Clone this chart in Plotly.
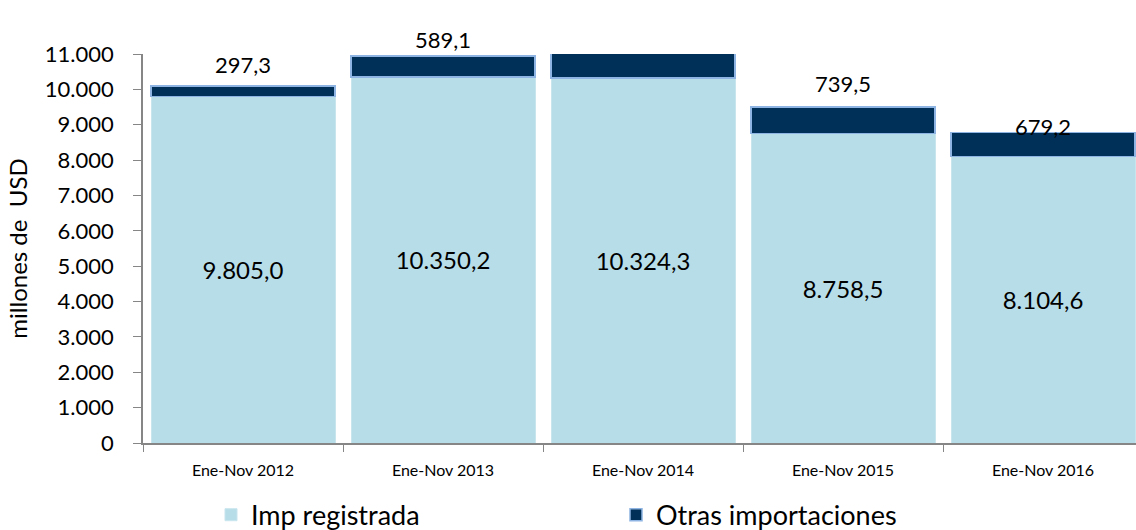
import plotly.graph_objects as go

categories = ["Ene-Nov 2012", "Ene-Nov 2013", "Ene-Nov 2014", "Ene-Nov 2015", "Ene-Nov 2016"]
imp_registrada = [9805.0, 10350.2, 10324.3, 8758.5, 8104.6]
otras_importaciones = [297.3, 589.1, 718.2, 739.5, 679.2]

# label offsets above each bar top (pixels, style only)
label_shift = [21, 17, 15, 24, 6]

FONT = "Lato"

def es_fmt(v):
    s = f"{v:,.1f}"
    return s.replace(",", "X").replace(".", ",").replace("X", ".")

fig = go.Figure()
fig.add_trace(go.Bar(
    x=categories, y=imp_registrada, name="Imp registrada",
    marker=dict(color="#B7DDE8", line=dict(color="#C8E5EE", width=1)),
    texttemplate="%{y:,.1f}", textposition="inside", insidetextanchor="middle",
    textfont=dict(size=24, color="#000000", family=FONT),
    width=0.92, legend="legend",
))
fig.add_trace(go.Bar(
    x=categories, y=otras_importaciones, name="Otras importaciones",
    marker=dict(color="#003057", line=dict(color="#8DB4E2", width=1.5)),
    width=0.92, legend="legend2",
))

for c, a, b, s in zip(categories, imp_registrada, otras_importaciones, label_shift):
    fig.add_annotation(x=c, y=a + b, text=es_fmt(b), showarrow=False,
                       yanchor="middle", yshift=s,
                       font=dict(size=22, color="#000000", family=FONT))

legend_common = dict(orientation="h", xref="container", yref="container",
                     y=0.028, xanchor="left", yanchor="middle",
                     font=dict(size=27, family=FONT, color="#000000"),
                     itemclick=False, bgcolor="rgba(0,0,0,0)")

fig.update_layout(
    barmode="stack",
    width=1136, height=530,
    margin=dict(l=143, r=0, t=54, b=87),
    paper_bgcolor="white", plot_bgcolor="white",
    separators=",.",
    font=dict(family=FONT, color="#000000"),
    showlegend=True,
    legend=dict(x=211 / 1136, **legend_common),
    legend2=dict(x=616 / 1136, **legend_common),
    xaxis=dict(range=[-0.5, 4.465], showline=True, linecolor="#868686", linewidth=1.5,
               ticks="outside", tickson="boundaries", ticklen=7, tickcolor="#868686",
               ticklabelstandoff=12, automargin=False,
               tickfont=dict(size=16, family=FONT), showgrid=False),
    yaxis=dict(range=[0, 11000], tickvals=list(range(0, 11001, 1000)), tickformat=",.0f",
               showline=True, linecolor="#868686", linewidth=1.5, automargin=False,
               ticks="outside", ticklen=8, tickcolor="#868686", ticklabelstandoff=15,
               tickfont=dict(size=22, family=FONT), showgrid=False, zeroline=False,
               title=dict(text="millones de  USD", font=dict(size=24, family=FONT), standoff=10)),
)

fig.write_html("out.html", config={"displayModeBar": False},
               post_script="document.body.style.margin='0';document.body.style.overflow='hidden';")
